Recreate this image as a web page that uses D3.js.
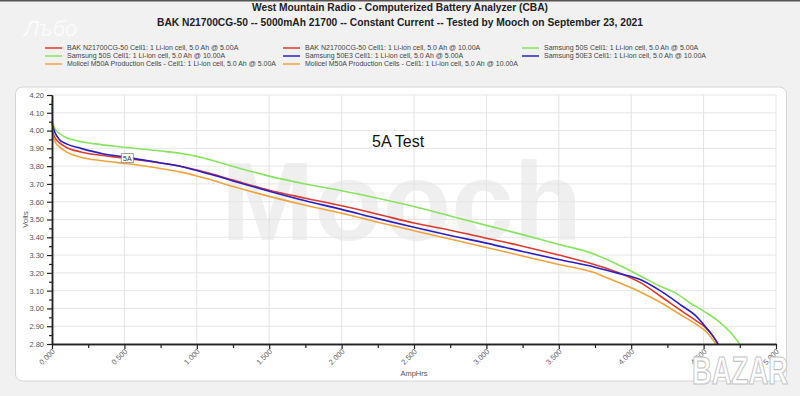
<!DOCTYPE html>
<html>
<head>
<meta charset="utf-8">
<script src="https://cdn.jsdelivr.net/npm/d3@7"></script>
<style>
  html, body { margin: 0; padding: 0; background: #f1f1f1; }
  svg { display: block; font-family: "Liberation Sans", Arial, sans-serif; }
</style>
</head>
<body>
<svg id="chart" width="800" height="396"></svg>
<script>
// discharge curves, [AmpHrs, Volts]
const bak5A = [
  [0, 4.00], [0.02, 3.96], [0.05, 3.932], [0.1, 3.905], [0.2, 3.88], [0.35, 3.86],
  [0.5, 3.845], [0.75, 3.818], [0.9, 3.797], [1.0, 3.778], [1.1, 3.757], [1.25, 3.722], [1.5, 3.665],
  [1.75, 3.62], [2.0, 3.577], [2.25, 3.53], [2.5, 3.48], [2.75, 3.44], [3.0, 3.395],
  [3.25, 3.35], [3.5, 3.30], [3.75, 3.245], [3.9, 3.205], [4.07, 3.142], [4.2, 3.07],
  [4.35, 2.985], [4.45, 2.93], [4.51, 2.895], [4.56, 2.85], [4.60, 2.80]
];
const samsung50s5A = [
  [0, 4.06], [0.02, 4.01], [0.05, 3.985], [0.1, 3.96], [0.15, 3.947], [0.3, 3.925],
  [0.5, 3.906], [0.75, 3.885], [0.9, 3.87], [1.0, 3.855], [1.15, 3.822], [1.3, 3.787],
  [1.5, 3.744], [1.75, 3.70], [2.0, 3.662], [2.25, 3.62], [2.5, 3.573], [2.75, 3.52],
  [3.0, 3.467], [3.25, 3.415], [3.5, 3.36], [3.7, 3.318], [3.9, 3.25], [4.07, 3.18],
  [4.2, 3.125], [4.3, 3.09], [4.4, 3.035], [4.5, 2.985], [4.6, 2.93], [4.68, 2.87], [4.75, 2.80]
];
const samsung50e35A = [
  [0, 4.04], [0.02, 3.99], [0.05, 3.95], [0.1, 3.925], [0.2, 3.90], [0.35, 3.87],
  [0.5, 3.852], [0.75, 3.818], [0.9, 3.797], [1.0, 3.775], [1.1, 3.753], [1.25, 3.717], [1.5, 3.659],
  [1.75, 3.605], [2.0, 3.557], [2.25, 3.505], [2.5, 3.456], [2.75, 3.41], [3.0, 3.367],
  [3.25, 3.32], [3.5, 3.275], [3.75, 3.232], [3.9, 3.20], [4.07, 3.16], [4.2, 3.10],
  [4.35, 3.015], [4.45, 2.955], [4.51, 2.90], [4.56, 2.85], [4.60, 2.80]
];
const molicel5A = [
  [0, 4.17], [0.005, 3.98], [0.02, 3.94], [0.05, 3.91], [0.1, 3.88], [0.2, 3.85],
  [0.35, 3.83], [0.54, 3.812], [0.75, 3.787], [0.9, 3.765], [1.0, 3.745], [1.1, 3.723], [1.25, 3.685],
  [1.5, 3.63], [1.75, 3.58], [2.0, 3.535], [2.25, 3.485], [2.5, 3.437], [2.75, 3.39],
  [3.0, 3.343], [3.25, 3.295], [3.5, 3.247], [3.75, 3.20], [3.84, 3.17], [3.98, 3.123],
  [4.07, 3.09], [4.2, 3.035], [4.35, 2.96], [4.45, 2.91], [4.51, 2.875], [4.55, 2.84], [4.585, 2.80]
];

const seriesNames = ['BAK 5A', 'Samsung 50S 5A', 'Samsung 50E3 5A', 'Molicel 5A'];
const seriesData = [bak5A, samsung50s5A, samsung50e35A, molicel5A];
const seriesColors = ['#dc3a2c', '#86e45e', '#2b1fc4', '#eea43c'];

const legendLabels = [
  'BAK N21700CG-50 Cell1: 1 Li-ion cell, 5.0 Ah @ 5.00A',
  'BAK N21700CG-50 Cell1: 1 Li-ion cell, 5.0 Ah @ 10.00A',
  'Samsung 50S Cell1: 1 Li-ion cell, 5.0 Ah @ 5.00A',
  'Samsung 50S Cell1: 1 Li-ion cell, 5.0 Ah @ 10.00A',
  'Samsung 50E3 Cell1: 1 Li-ion cell, 5.0 Ah @ 5.00A',
  'Samsung 50E3 Cell1: 1 Li-ion cell, 5.0 Ah @ 10.00A',
  'Molicel M50A Production Cells - Cell1: 1 Li-ion cell, 5.0 Ah @ 5.00A',
  'Molicel M50A Production Cells - Cell1: 1 Li-ion cell, 5.0 Ah @ 10.00A'
];
const legendColors = ['#dc3a2c', '#dc3a2c', '#86e45e', '#86e45e', '#2b1fc4', '#2b1fc4', '#eea43c', '#eea43c'];

const xMajorTicks = [0, 0.5, 1, 1.5, 2, 2.5, 3, 3.5, 4, 4.5, 5];
const yMajorTicks = [2.8, 2.9, 3.0, 3.1, 3.2, 3.3, 3.4, 3.5, 3.6, 3.7, 3.8, 3.9, 4.0, 4.1, 4.2];

const titleText = 'West Mountain Radio - Computerized Battery Analyzer (CBA)';
const subtitleText = 'BAK N21700CG-50 -- 5000mAh 21700 -- Constant Current -- Tested by Mooch on September 23, 2021';

const svg = d3.select('#chart');
const plot = { left: 52, right: 776, top: 95, bottom: 344 };

const x = d3.scaleLinear().domain([0, 5]).range([plot.left, plot.right]);
const y = d3.scaleLinear().domain([2.8, 4.2]).range([plot.bottom, plot.top]);

// page frame
svg.append('rect').attr('width', 800).attr('height', 396).attr('fill', '#f1f1f1');
svg.append('rect').attr('width', 800).attr('height', 1.5).attr('fill', '#555');

// faint site mark top-left
svg.append('text')
  .attr('x', 24).attr('y', 36)
  .attr('font-size', 22).attr('font-style', 'italic')
  .attr('fill', '#ffffff').attr('opacity', 0.7)
  .text('Лъбо');

// titles
svg.append('text')
  .attr('x', 400).attr('y', 11)
  .attr('text-anchor', 'middle')
  .attr('font-size', 11).attr('font-weight', 'bold').attr('fill', '#222')
  .attr('textLength', 296).attr('lengthAdjust', 'spacingAndGlyphs')
  .text(titleText);
svg.append('text')
  .attr('x', 400).attr('y', 26)
  .attr('text-anchor', 'middle')
  .attr('font-size', 11.5).attr('font-weight', 'bold').attr('fill', '#222')
  .attr('textLength', 486).attr('lengthAdjust', 'spacingAndGlyphs')
  .text(subtitleText);

// legend, 3 columns
const legendCols = [45, 283, 522];
const legend = svg.append('g').attr('class', 'legend');
legendLabels.forEach((label, i) => {
  const lx = legendCols[i % 3];
  const ly = 48 + Math.floor(i / 3) * 8;
  legend.append('line')
    .attr('x1', lx).attr('x2', lx + 17)
    .attr('y1', ly).attr('y2', ly)
    .attr('stroke', legendColors[i]).attr('stroke-width', 1.5);
  legend.append('text')
    .attr('x', lx + 22).attr('y', ly + 2.4)
    .attr('font-size', 7).attr('fill', '#444')
    .text(label);
});

// panel
svg.append('rect')
  .attr('x', 15.5).attr('y', 87).attr('width', 771).attr('height', 294)
  .attr('rx', 7)
  .attr('fill', '#ffffff').attr('stroke', '#d6d6d6');

// watermark inside the plot
svg.append('text')
  .attr('x', 221).attr('y', 240)
  .attr('font-size', 112).attr('font-weight', 'bold')
  .attr('fill', '#efefef')
  .text('Mooch');

// grid
const grid = svg.append('g').attr('class', 'grid');
grid.selectAll('line.h')
  .data(yMajorTicks)
  .join('line')
  .attr('class', 'h')
  .attr('x1', plot.left).attr('x2', plot.right)
  .attr('y1', d => y(d)).attr('y2', d => y(d))
  .attr('stroke', '#e6e6e6');
grid.selectAll('line.v')
  .data(xMajorTicks.slice(1))
  .join('line')
  .attr('class', 'v')
  .attr('x1', d => x(d)).attr('x2', d => x(d))
  .attr('y1', plot.top).attr('y2', plot.bottom)
  .attr('stroke', '#e3e3e3');

// curves
const line = d3.line()
  .x(d => x(d[0]))
  .y(d => y(d[1]))
  .curve(d3.curveMonotoneX);

svg.append('g').attr('class', 'curves')
  .selectAll('path')
  .data(seriesData)
  .join('path')
  .attr('d', line)
  .attr('fill', 'none')
  .attr('stroke', (d, i) => seriesColors[i])
  .attr('stroke-width', 1.6);

// axes
const yAxis = d3.axisLeft(y)
  .tickValues(yMajorTicks)
  .tickFormat(d3.format('.2f'))
  .tickSize(5).tickSizeOuter(0);
const yMinor = d3.axisLeft(y)
  .tickValues(d3.range(2.85, 4.2, 0.1))
  .tickFormat('')
  .tickSize(3).tickSizeOuter(0);
const xAxis = d3.axisBottom(x)
  .tickValues(xMajorTicks)
  .tickFormat(d3.format('.3f'))
  .tickSize(5).tickSizeOuter(0);
const xMinor = d3.axisBottom(x)
  .tickValues(d3.range(0.25, 5, 0.5))
  .tickFormat('')
  .tickSize(4).tickSizeOuter(0);

svg.append('g').attr('transform', `translate(${plot.left},0)`).call(yMinor);
const gy = svg.append('g').attr('transform', `translate(${plot.left},0)`).call(yAxis);
svg.append('g').attr('transform', `translate(0,${plot.bottom})`).call(xMinor);
const gx = svg.append('g').attr('transform', `translate(0,${plot.bottom})`).call(xAxis);

svg.selectAll('.domain').attr('stroke', '#222').attr('stroke-width', 1.5);
svg.selectAll('.tick line').attr('stroke', '#222').attr('stroke-width', 1.2);

gy.selectAll('.tick text')
  .attr('x', -8)
  .attr('font-size', 7.5).attr('fill', '#555')
  .attr('font-family', '"Liberation Sans", Arial, sans-serif');

gx.selectAll('.tick text')
  .attr('font-size', 7.5).attr('fill', '#666')
  .attr('font-family', '"Liberation Sans", Arial, sans-serif')
  .attr('text-anchor', 'end')
  .attr('dy', null).attr('y', null)
  .attr('transform', 'translate(3,8) rotate(-45)');

// axis titles
svg.append('text')
  .attr('x', 414).attr('y', 376)
  .attr('text-anchor', 'middle')
  .attr('font-size', 7.5).attr('fill', '#555')
  .text('AmpHrs');
svg.append('text')
  .attr('transform', `translate(28,${(plot.top + plot.bottom) / 2}) rotate(-90)`)
  .attr('text-anchor', 'middle')
  .attr('font-size', 7.5).attr('fill', '#555')
  .text('Volts');

// annotations
svg.append('text')
  .attr('x', 372).attr('y', 147)
  .attr('font-size', 16).attr('fill', '#111')
  .text('5A Test');

const tag = svg.append('g').attr('transform', `translate(${x(0.52)},${y(3.845)})`);
tag.append('rect')
  .attr('x', -6).attr('y', -4.5).attr('width', 12).attr('height', 9)
  .attr('fill', '#ffffff').attr('stroke', '#888').attr('stroke-width', 0.8);
tag.append('text')
  .attr('text-anchor', 'middle').attr('y', 2.5)
  .attr('font-size', 7).attr('fill', '#333')
  .text('5A');

// site mark bottom-right
svg.append('text')
  .attr('x', 692).attr('y', 384)
  .attr('font-size', 38).attr('font-weight', 'bold')
  .attr('textLength', 96).attr('lengthAdjust', 'spacingAndGlyphs')
  .attr('fill', '#ffffff').attr('stroke', '#c4c4c4').attr('stroke-width', 1.2)
  .text('BAZAR');
</script>
</body>
</html>
